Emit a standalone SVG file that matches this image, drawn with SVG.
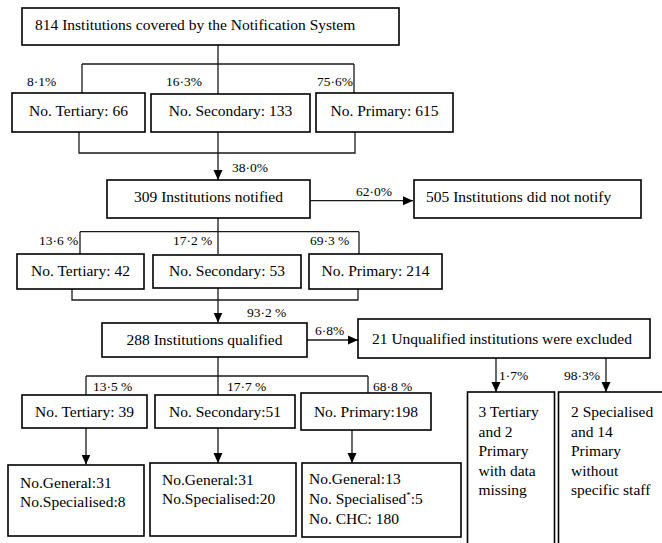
<svg xmlns="http://www.w3.org/2000/svg" width="662" height="543" viewBox="0 0 662 543">
<defs>
<marker id="arr" markerWidth="10" markerHeight="10" refX="10" refY="5" orient="auto" markerUnits="userSpaceOnUse">
<path d="M0,0.5 L10,5 L0,9.5 Z" fill="#000"/>
</marker>
<style>
text{font-family:'Liberation Serif','Times New Roman','DejaVu Serif',serif;fill:#000}
.box{fill:#fff;stroke:#000;stroke-width:1.6}
.t{font-size:15.5px}
.p{font-size:13.5px}
.c{fill:none;stroke:#1a1a1a;stroke-width:1.3}
.m{text-anchor:middle}
</style>
</defs>
<rect width="662" height="543" fill="#fff"/>
<g id="connectors">
<path class="c" d="M218,45 V94 M82,64 H354 M82,64 V93 M354,64 V93"/>
<path class="c" d="M79,132 V153 H355 V132"/>
<path class="c" d="M218,132 V180" marker-end="url(#arr)"/>
<path class="c" d="M310,200.7 H413" marker-end="url(#arr)"/>
<path class="c" d="M218,218 V254 M80,231.7 H359 M80,231.7 V254 M359,231.7 V254"/>
<path class="c" d="M72,289 V300 H358 V289"/>
<path class="c" d="M218,288 V322.5" marker-end="url(#arr)"/>
<path class="c" d="M307,340 H358" marker-end="url(#arr)"/>
<path class="c" d="M218,357 V395 M86,376 H368 M86,376 V395 M368,376 V393"/>
<path class="c" d="M86,428 V464.5" marker-end="url(#arr)"/>
<path class="c" d="M218,428 V463" marker-end="url(#arr)"/>
<path class="c" d="M352,430 V463" marker-end="url(#arr)"/>
<path class="c" d="M496,358 V392" marker-end="url(#arr)"/>
<path class="c" d="M606,358 V392" marker-end="url(#arr)"/>
</g>
<g id="labels" font-family="Liberation Serif, serif">
<text class="p" x="27" y="86">8·1%</text>
<text class="p" x="166" y="86">16·3%</text>
<text class="p" x="317" y="86">75·6%</text>
<text class="p" x="232" y="172">38·0%</text>
<text class="p" x="356" y="196">62·0%</text>
<text class="p" x="39" y="245">13·6 %</text>
<text class="p" x="173" y="245">17·2 %</text>
<text class="p" x="310" y="245">69·3 %</text>
<text class="p" x="247" y="317">93·2 %</text>
<text class="p" x="315" y="335">6·8%</text>
<text class="p" x="93" y="390.5">13·5 %</text>
<text class="p" x="227" y="390.5">17·7 %</text>
<text class="p" x="373" y="390.5">68·8 %</text>
<text class="p" x="499" y="380">1·7%</text>
<text class="p" x="564" y="380">98·3%</text>
</g>
<g id="n-top"><rect class="box" x="22" y="8" width="377" height="37"/><text class="t" x="35" y="29.5">814 Institutions covered by the Notification System</text></g>
<g id="n-ter1"><rect class="box" x="12" y="93" width="133" height="39"/><text class="t m" x="78.5" y="115.5">No. Tertiary: 66</text></g>
<g id="n-sec1"><rect class="box" x="151" y="94" width="159" height="38"/><text class="t m" x="230.5" y="115.5">No. Secondary: 133</text></g>
<g id="n-pri1"><rect class="box" x="316" y="93" width="137" height="39"/><text class="t m" x="384.5" y="115.5">No. Primary: 615</text></g>
<g id="n-notified"><rect class="box" x="107" y="180" width="203" height="38"/><text class="t m" x="208.5" y="202">309 Institutions notified</text></g>
<g id="n-notnotify"><rect class="box" x="414" y="180" width="227" height="38"/><text class="t" x="426" y="202">505 Institutions did not notify</text></g>
<g id="n-ter2"><rect class="box" x="17" y="254" width="127" height="35"/><text class="t m" x="80.5" y="276">No. Tertiary: 42</text></g>
<g id="n-sec2"><rect class="box" x="153" y="255" width="148" height="33"/><text class="t m" x="227" y="276">No. Secondary: 53</text></g>
<g id="n-pri2"><rect class="box" x="309" y="254" width="133" height="35"/><text class="t m" x="375.5" y="276">No. Primary: 214</text></g>
<g id="n-qualified"><rect class="box" x="102" y="323" width="205" height="34"/><text class="t m" x="204.5" y="345">288 Institutions qualified</text></g>
<g id="n-unqualified"><rect class="box" x="358" y="319" width="292" height="39"/><text class="t" x="372" y="344">21 Unqualified institutions were excluded</text></g>
<g id="n-ter3"><rect class="box" x="22" y="395" width="125" height="33"/><text class="t m" x="84.5" y="416.5">No. Tertiary: 39</text></g>
<g id="n-sec3"><rect class="box" x="155" y="395" width="140" height="33"/><text class="t m" x="225" y="416.5">No. Secondary:51</text></g>
<g id="n-pri3"><rect class="box" x="301" y="393" width="130" height="37"/><text class="t m" x="366" y="416.5">No. Primary:198</text></g>
<g id="n-ter4"><rect class="box" x="8" y="465" width="136" height="71"/><text class="t" x="20" y="488">No.General:31</text><text class="t" x="20" y="507">No.Specialised:8</text></g>
<g id="n-sec4"><rect class="box" x="150" y="463" width="146" height="73"/><text class="t" x="162" y="485">No.General:31</text><text class="t" x="162" y="504">No.Specialised:20</text></g>
<g id="n-pri4"><rect class="box" x="302" y="463" width="159" height="74"/><text class="t" x="309" y="483.5">No.General:13</text><text class="t" x="309" y="503.5">No. Specialised<tspan font-size="9" dy="-6">*</tspan><tspan dy="6">:5</tspan></text><text class="t" x="309" y="523.5">No. CHC: 180</text></g>
<g id="n-missing"><rect class="box" x="467.5" y="392" width="87" height="160"/>
<text class="t" x="478.5" y="416.5">3 Tertiary</text><text class="t" x="478.5" y="436.5">and 2</text><text class="t" x="478.5" y="456">Primary</text><text class="t" x="478.5" y="475.5">with data</text><text class="t" x="478.5" y="495">missing</text></g>
<g id="n-nostaff"><rect class="box" x="558.5" y="392" width="110" height="160"/>
<text class="t" x="571" y="416.5">2 Specialised</text><text class="t" x="571" y="436.5">and 14</text><text class="t" x="571" y="456">Primary</text><text class="t" x="571" y="475.5">without</text><text class="t" x="571" y="495">specific staff</text></g>
</svg>
